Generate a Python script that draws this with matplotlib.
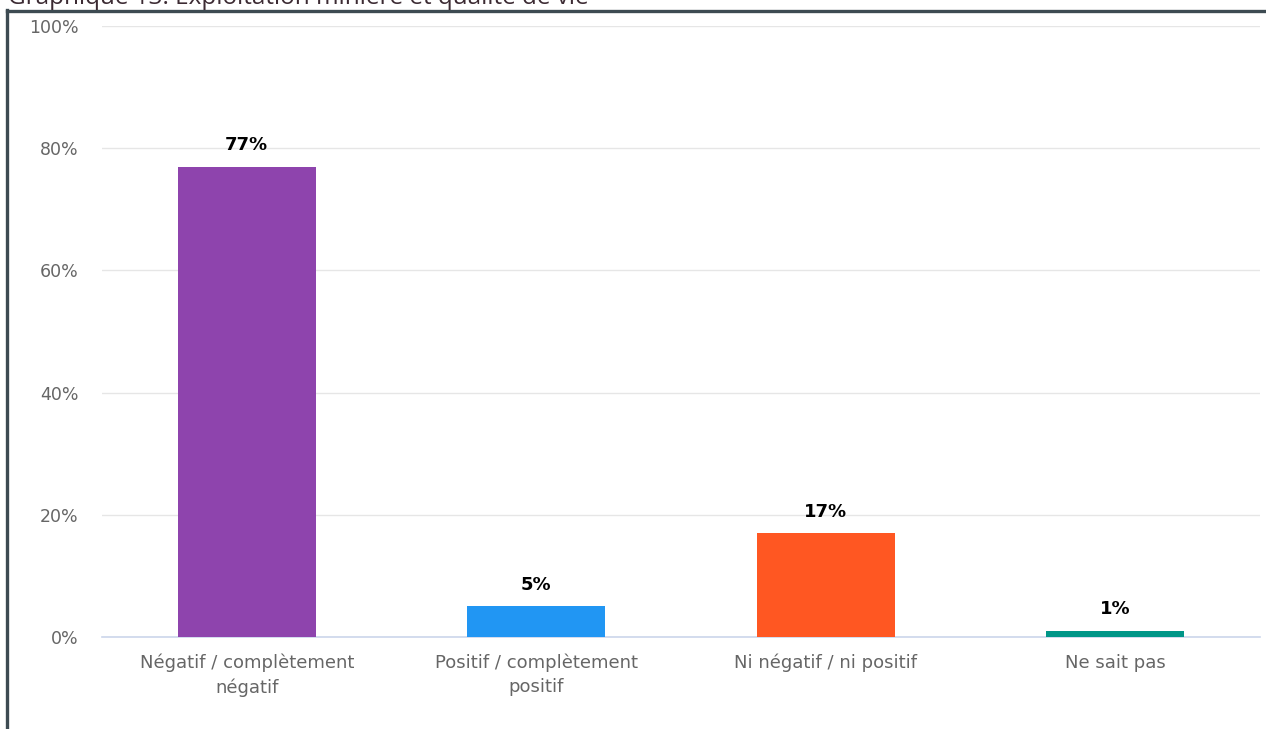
import numpy as np
import matplotlib.pyplot as plt
from matplotlib.lines import Line2D

# survey answers and their share of respondents
categories = ["Négatif / complètement\nnégatif", "Positif / complètement\npositif",
              "Ni négatif / ni positif", "Ne sait pas"]
values = [77, 5, 17, 1]
colors = ["#8E44AD", "#2196F3", "#FF5722", "#009688"]
yticks = [0, 20, 40, 60, 80, 100]
title = "Graphique 13: Exploitation minière et qualité de vie"

W, H = 1266, 729
fig = plt.figure(figsize=(W / 100, H / 100), dpi=100)
ax = fig.add_axes([102 / W, 1 - 637 / H, (1260 - 102) / W, (637 - 26) / H])

x = np.arange(len(categories))
bars = ax.bar(x, values, width=0.477, color=colors, zorder=3)

# value labels above each bar
for b, v in zip(bars, values):
    ax.annotate(f"{v}%", (b.get_x() + b.get_width() / 2, v), xytext=(0, 9),
                textcoords="offset points", ha="center", va="bottom",
                fontsize=13, fontweight="bold", color="#000000", zorder=4)

ax.set_xlim(-0.5, len(categories) - 0.5)
ax.set_ylim(0, 100)
ax.set_yticks(yticks)
ax.set_yticklabels([f"{t}%" for t in yticks], fontsize=12.5, color="#666666")
ax.set_xticks(x)
ax.set_xticklabels(categories, fontsize=13, color="#666666", linespacing=1.45)
ax.tick_params(axis="both", length=0)
ax.tick_params(axis="y", pad=17)
ax.tick_params(axis="x", pad=12)

ax.grid(axis="y", color="#e6e6e6", linewidth=1, zorder=0)
for s in ["top", "right", "left"]:
    ax.spines[s].set_visible(False)
ax.spines["bottom"].set_color("#ccd6eb")
ax.spines["bottom"].set_linewidth(1.2)

# dark frame along the top and left edge
frame = "#3d4b52"
fig.add_artist(Line2D([7 / W, 1], [1 - 11 / H, 1 - 11 / H], color=frame, lw=2.4))
fig.add_artist(Line2D([7.5 / W, 7.5 / W], [0, 1 - 10 / H], color=frame, lw=2.4))

fig.text(8 / W, 1 - 3.5 / H, title, ha="left", va="baseline", fontsize=17.5,
         family="Open Sans", color="#3c2b33")

fig.savefig("out.png", dpi=100)
